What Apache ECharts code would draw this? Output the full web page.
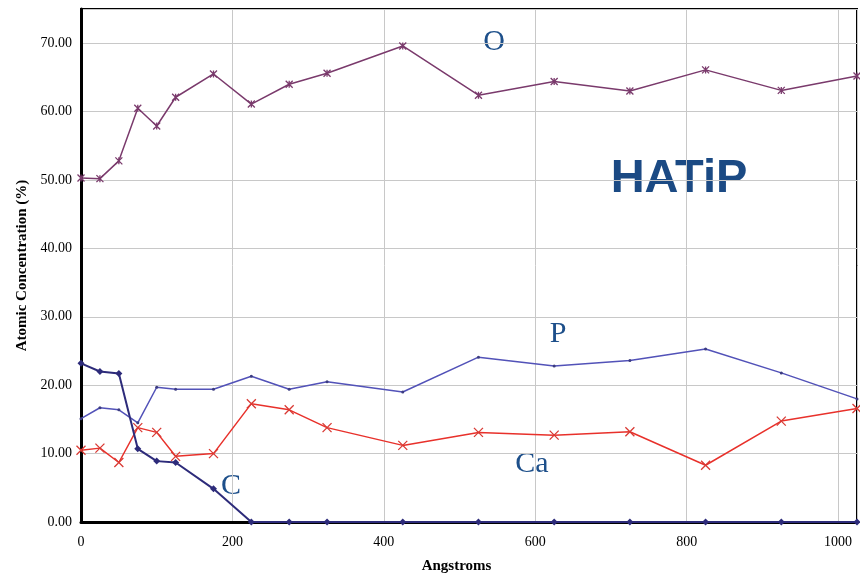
<!DOCTYPE html>
<html>
<head>
<meta charset="utf-8">
<script src="https://cdn.jsdelivr.net/npm/echarts@6/dist/echarts.min.js"></script>
<style>
html,body{margin:0;padding:0;background:#fff;}
#chart{width:860px;height:579px;}
</style>
</head>
<body>
<div id="chart"></div>
<script>
const depths = [0, 25, 50, 75, 100, 125, 175, 225, 275, 325, 425, 525, 625, 725, 825, 925, 1025];
const oxygen = [50.3, 50.2, 52.8, 60.5, 57.9, 62.1, 65.5, 61.1, 64.0, 65.6, 69.6, 62.4, 64.4, 63.0, 66.1, 63.1, 65.2];
const phosphorus = [15.1, 16.7, 16.4, 14.5, 19.7, 19.4, 19.4, 21.3, 19.4, 20.5, 19.0, 24.1, 22.8, 23.6, 25.3, 21.8, 18.0];
const calcium = [10.5, 10.8, 8.7, 13.8, 13.1, 9.6, 10.0, 17.3, 16.4, 13.8, 11.2, 13.1, 12.7, 13.2, 8.3, 14.75, 16.6];
const carbon = [23.2, 22.0, 21.7, 10.7, 8.9, 8.7, 4.85, 0, 0, 0, 0, 0, 0, 0, 0, 0, 0];
const seriesNames = ['O', 'P', 'Ca', 'C'];
const xTitle = 'Angstroms';
const yTitle = 'Atomic Concentration (%)';

function pairs(vals) { return depths.map((d, i) => [d, vals[i]]); }

const chart = echarts.init(document.getElementById('chart'), null, {renderer: 'canvas'});
const serif = '"Liberation Serif", "DejaVu Serif", serif';
const labelBlue = '#1d4f8a';

chart.setOption({
  animation: false,
  backgroundColor: '#ffffff',
  grid: {left: 81, top: 9, right: 3, bottom: 55, show: true, borderColor: '#000', borderWidth: 2, backgroundColor: 'transparent'},
  xAxis: {
    type: 'value', min: 0, max: 1025, interval: 200,
    name: xTitle, nameLocation: 'middle', nameGap: 37,
    nameTextStyle: {fontFamily: serif, fontWeight: 'bold', fontSize: 15, color: '#000', padding: [0, 25, 0, 0]},
    axisLine: {show: true, onZero: false, lineStyle: {color: '#000', width: 3}},
    axisTick: {show: false},
    axisLabel: {fontFamily: serif, fontSize: 14, color: '#000', margin: 13, showMaxLabel: false,
      formatter: v => String(v)},
    splitLine: {show: true, lineStyle: {color: '#c8c8c8', width: 1}}
  },
  yAxis: {
    type: 'value', min: 0, max: 75, interval: 10,
    name: yTitle, nameLocation: 'middle', nameGap: 50,
    nameTextStyle: {fontFamily: serif, fontWeight: 'bold', fontSize: 15, color: '#000'},
    axisLine: {show: true, lineStyle: {color: '#000', width: 3}},
    axisTick: {show: false},
    axisLabel: {fontFamily: serif, fontSize: 14, color: '#000', margin: 9, showMaxLabel: false,
      formatter: v => v.toFixed(2)},
    splitLine: {show: true, lineStyle: {color: '#c8c8c8', width: 1}}
  },
  series: [
    {name: seriesNames[0], type: 'line', data: pairs(oxygen), color: '#7a3a6c',
      lineStyle: {width: 1.5, color: '#7a3a6c'},
      symbol: 'path://M0,0L10,10M10,0L0,10M5,0L5,10', symbolSize: 7,
      itemStyle: {color: 'none', borderColor: '#7a3a6c', borderWidth: 1.3}, z: 3},
    {name: seriesNames[1], type: 'line', data: pairs(phosphorus), color: '#5252b8',
      lineStyle: {width: 1.5, color: '#5252b8'},
      symbol: 'circle', symbolSize: 3,
      itemStyle: {color: '#3c3c80', borderWidth: 0}, z: 3},
    {name: seriesNames[2], type: 'line', data: pairs(calcium), color: '#e8312b',
      lineStyle: {width: 1.5, color: '#e8312b'},
      symbol: 'path://M0,0L10,10M10,0L0,10', symbolSize: 9,
      itemStyle: {color: 'none', borderColor: '#d93a34', borderWidth: 1.3}, z: 3},
    {name: seriesNames[3], type: 'line', data: pairs(carbon), color: '#2d2b7a',
      lineStyle: {width: 2, color: '#2d2b7a'},
      symbol: 'diamond', symbolSize: 7,
      itemStyle: {color: '#2d2b7a', borderWidth: 0}, z: 4}
  ],
  graphic: [
    {type: 'text', x: 494, y: 42, style: {text: 'O', font: '30px ' + serif, fill: labelBlue, align: 'center', verticalAlign: 'middle'}},
    {type: 'text', x: 558, y: 334, style: {text: 'P', font: '30px ' + serif, fill: labelBlue, align: 'center', verticalAlign: 'middle'}},
    {type: 'text', x: 532, y: 464, style: {text: 'Ca', font: '30px ' + serif, fill: labelBlue, align: 'center', verticalAlign: 'middle'}},
    {type: 'text', x: 231, y: 486, style: {text: 'C', font: '30px ' + serif, fill: labelBlue, align: 'center', verticalAlign: 'middle'}},
    {type: 'text', x: 679, y: 179, style: {text: 'HATiP', font: 'bold 47px "Liberation Sans", Arial, sans-serif', fill: '#1b4a84', align: 'center', verticalAlign: 'middle'}}
  ]
});
</script>
</body>
</html>
